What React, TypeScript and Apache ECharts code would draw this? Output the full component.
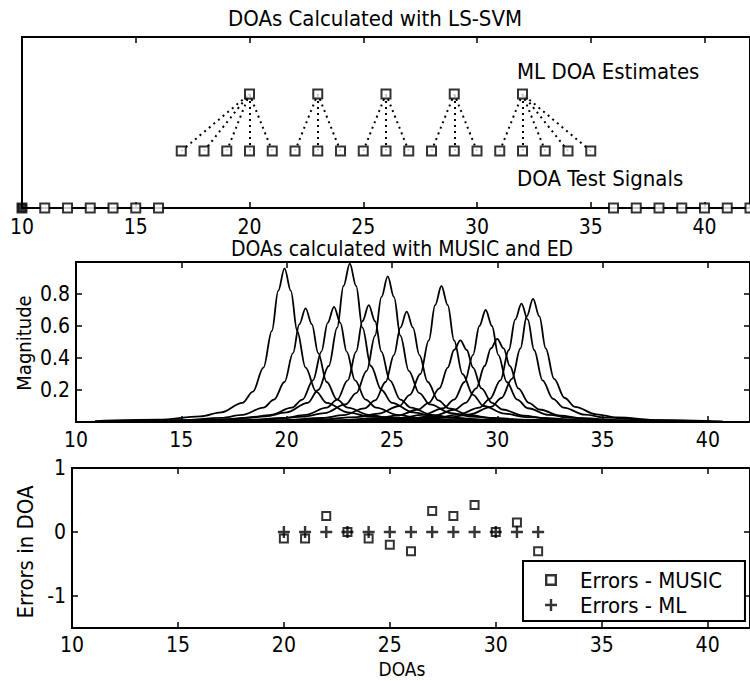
import React, { useEffect, useRef } from "react";
import * as echarts from "echarts";

const FONT =
  "'Liberation Sans Narrow', 'DejaVu Sans Condensed', 'Arial Narrow', 'Liberation Sans', sans-serif";

// ---------- shared axis ----------
const X_MIN = 10;
const X_MAX = 42;
const X_TICKS = [10, 15, 20, 25, 30, 35, 40];

// ---------- top panel: LS-SVM ----------
const TEST_DOAS = [17, 18, 19, 20, 21, 22, 23, 24, 25, 26, 27, 28, 29, 30, 31, 32, 33, 34, 35];
const TEST_TO_ML = [20, 20, 20, 20, 20, 23, 23, 23, 26, 26, 26, 29, 29, 29, 32, 32, 32, 32, 32];
const ML_ESTIMATES = [20, 23, 26, 29, 32];
const OUT_OF_RANGE_DOAS = [10, 11, 12, 13, 14, 15, 16, 36, 37, 38, 39, 40, 41, 42];
const AXIS_LEVEL = 0;
const TEST_LEVEL = 1;
const ML_LEVEL = 2;
const TOP_Y_MAX = 3;

// ---------- middle panel: MUSIC spectra ----------
const MUSIC_PEAKS = [19.9, 20.9, 22.25, 23.0, 23.9, 24.8, 25.7, 27.35, 28.25, 29.45, 30.0, 31.15, 31.7];
const SPECTRUM_OFFSETS = [-9, -6, -4, -3, -2, -1.5, -1, -0.6, -0.3, 0, 0.3, 0.6, 1, 1.5, 2, 3, 4, 6, 9];
const SPECTRA = [
  [0.005, 0.014, 0.035, 0.06, 0.12, 0.19, 0.34, 0.57, 0.82, 0.96, 0.82, 0.57, 0.34, 0.19, 0.12, 0.06, 0.035, 0.014, 0.005],
  [0.004, 0.011, 0.026, 0.045, 0.09, 0.14, 0.25, 0.43, 0.61, 0.71, 0.61, 0.43, 0.25, 0.14, 0.09, 0.045, 0.026, 0.011, 0.004],
  [0.004, 0.011, 0.026, 0.045, 0.09, 0.14, 0.26, 0.44, 0.62, 0.72, 0.62, 0.44, 0.26, 0.14, 0.09, 0.045, 0.026, 0.011, 0.004],
  [0.005, 0.015, 0.036, 0.06, 0.12, 0.2, 0.35, 0.59, 0.85, 0.99, 0.85, 0.59, 0.35, 0.2, 0.12, 0.06, 0.036, 0.015, 0.005],
  [0.004, 0.011, 0.026, 0.045, 0.09, 0.14, 0.26, 0.44, 0.63, 0.73, 0.63, 0.44, 0.26, 0.14, 0.09, 0.045, 0.026, 0.011, 0.004],
  [0.005, 0.014, 0.034, 0.056, 0.11, 0.18, 0.32, 0.54, 0.78, 0.91, 0.78, 0.54, 0.32, 0.18, 0.11, 0.056, 0.034, 0.014, 0.005],
  [0.004, 0.011, 0.025, 0.043, 0.085, 0.135, 0.25, 0.42, 0.59, 0.69, 0.59, 0.42, 0.25, 0.135, 0.085, 0.043, 0.025, 0.011, 0.004],
  [0.005, 0.013, 0.031, 0.052, 0.1, 0.17, 0.3, 0.51, 0.73, 0.85, 0.73, 0.51, 0.3, 0.17, 0.1, 0.052, 0.031, 0.013, 0.005],
  [0.004, 0.01, 0.024, 0.04, 0.078, 0.12, 0.21, 0.34, 0.45, 0.51, 0.45, 0.34, 0.21, 0.12, 0.078, 0.04, 0.024, 0.01, 0.004],
  [0.004, 0.011, 0.026, 0.044, 0.086, 0.14, 0.25, 0.42, 0.6, 0.7, 0.6, 0.42, 0.25, 0.14, 0.086, 0.044, 0.026, 0.011, 0.004],
  [0.004, 0.01, 0.024, 0.04, 0.078, 0.12, 0.21, 0.35, 0.46, 0.52, 0.46, 0.35, 0.21, 0.12, 0.078, 0.04, 0.024, 0.01, 0.004],
  [0.004, 0.012, 0.027, 0.046, 0.09, 0.145, 0.26, 0.45, 0.64, 0.74, 0.64, 0.45, 0.26, 0.145, 0.09, 0.046, 0.027, 0.012, 0.004],
  [0.004, 0.012, 0.028, 0.048, 0.094, 0.15, 0.27, 0.46, 0.66, 0.77, 0.66, 0.46, 0.27, 0.15, 0.094, 0.048, 0.028, 0.012, 0.004],
];
const MAG_TICKS = [0.2, 0.4, 0.6, 0.8];

// ---------- bottom panel: errors ----------
const ERROR_DOAS = [20, 21, 22, 23, 24, 25, 26, 27, 28, 29, 30, 31, 32];
const MUSIC_ERRORS = [-0.1, -0.1, 0.25, 0.0, -0.1, -0.2, -0.3, 0.33, 0.25, 0.42, 0.0, 0.15, -0.3];
const ML_ERRORS = [0, 0, 0, 0, 0, 0, 0, 0, 0, 0, 0, 0, 0];
const ERR_TICKS = [-1, 0, 1];

const BLACK = "#000";
const PLUS = "path://M4,0H6V10H4Z M0,4H10V6H0Z";
const HOLLOW_SQUARE = "path://M0,0H10V10H0Z M2,2V8H8V2Z";

function textStyle(size = 22) {
  return { fontFamily: FONT, fontSize: size, fill: BLACK };
}

function xAxis(gridIndex: number, position: "top" | "bottom", labels: boolean, margin = 8) {
  return {
    type: "value",
    gridIndex,
    position,
    min: X_MIN,
    max: X_MAX,
    axisLine: { show: false, onZero: false },
    splitLine: { show: false },
    axisTick: {
      show: true,
      inside: true,
      length: 6,
      customValues: X_TICKS,
      lineStyle: { color: BLACK, width: 1.5 },
    },
    axisLabel: {
      show: labels,
      customValues: X_TICKS,
      margin,
      color: BLACK,
      fontFamily: FONT,
      fontSize: 21,
    },
  };
}

function yAxis(
  gridIndex: number,
  position: "left" | "right",
  min: number,
  max: number,
  ticks: number[],
  labels: boolean
) {
  return {
    type: "value",
    gridIndex,
    position,
    min,
    max,
    axisLine: { show: false, onZero: false },
    splitLine: { show: false },
    axisTick: {
      show: true,
      inside: true,
      length: 6,
      customValues: ticks,
      lineStyle: { color: BLACK, width: 1.5 },
    },
    axisLabel: {
      show: labels,
      customValues: ticks,
      margin: 6,
      color: BLACK,
      fontFamily: FONT,
      fontSize: 21,
    },
  };
}

export default function App() {
  const ref = useRef<HTMLDivElement>(null);

  useEffect(() => {
    if (!ref.current) return;
    const chart = echarts.init(ref.current, undefined, { renderer: "svg" });

    const gridBase = { show: true, borderColor: BLACK, borderWidth: 2, backgroundColor: "#fff" };

    const connections = TEST_DOAS.map((d, i) => ({
      coords: [
        [d, TEST_LEVEL],
        [TEST_TO_ML[i], ML_LEVEL],
      ],
    }));

    const squareStyle = { color: "#fff", borderColor: BLACK, borderWidth: 2 };

    const spectraSeries = SPECTRA.map((vals, k) => ({
      type: "line",
      name: "spectrum" + k,
      xAxisIndex: 2,
      yAxisIndex: 1,
      data: vals.map((v, j) => [MUSIC_PEAKS[k] + SPECTRUM_OFFSETS[j], v]),
      symbol: "none",
      smooth: 0.35,
      smoothMonotone: "x",
      lineStyle: { color: BLACK, width: 1.8 },
      clip: true,
      z: 2,
    }));

    const option: any = {
      animation: false,
      backgroundColor: "#fff",
      grid: [
        { ...gridBase, left: 22, top: 37, width: 730, height: 171 },
        { ...gridBase, left: 76, top: 262, width: 676, height: 160 },
        { ...gridBase, left: 72, top: 468, width: 680, height: 160 },
      ],
      xAxis: [
        xAxis(0, "bottom", true, 8),
        xAxis(0, "top", false),
        xAxis(1, "bottom", true, 7),
        xAxis(1, "top", false),
        xAxis(2, "bottom", true, 6),
        xAxis(2, "top", false),
      ],
      yAxis: [
        { type: "value", gridIndex: 0, min: 0, max: TOP_Y_MAX, show: false },
        yAxis(1, "left", 0, 1, MAG_TICKS, true),
        yAxis(1, "right", 0, 1, MAG_TICKS, false),
        yAxis(2, "left", -1.5, 1, ERR_TICKS, true),
        yAxis(2, "right", -1.5, 1, ERR_TICKS, false),
      ],
      legend: {
        data: ["Errors - MUSIC", "Errors - ML"],
        orient: "vertical",
        left: 523,
        top: 561,
        padding: [8, 23, 5, 22],
        itemGap: 3,
        itemWidth: 48,
        itemHeight: 12,
        symbolKeepAspect: true,
        borderColor: BLACK,
        borderWidth: 2,
        backgroundColor: "#fff",
        textStyle: { fontFamily: FONT, fontSize: 22, color: BLACK },
      },
      series: [
        {
          type: "lines",
          coordinateSystem: "cartesian2d",
          xAxisIndex: 0,
          yAxisIndex: 0,
          data: connections,
          lineStyle: { color: BLACK, width: 2, type: [2, 4], opacity: 1 },
          z: 1,
        },
        {
          type: "scatter",
          name: "DOA Test Signals",
          xAxisIndex: 0,
          yAxisIndex: 0,
          data: TEST_DOAS.map((d) => [d, TEST_LEVEL]),
          symbol: "rect",
          symbolSize: 9,
          itemStyle: squareStyle,
          z: 3,
        },
        {
          type: "scatter",
          name: "ML DOA Estimates",
          xAxisIndex: 0,
          yAxisIndex: 0,
          data: ML_ESTIMATES.map((d) => [d, ML_LEVEL]),
          symbol: "rect",
          symbolSize: 9,
          itemStyle: squareStyle,
          z: 3,
        },
        {
          type: "scatter",
          name: "Out of range",
          xAxisIndex: 0,
          yAxisIndex: 0,
          clip: false,
          data: OUT_OF_RANGE_DOAS.map((d, i) =>
            i === 0 ? { value: [d, AXIS_LEVEL], itemStyle: { color: BLACK } } : [d, AXIS_LEVEL]
          ),
          symbol: "rect",
          symbolSize: 9,
          itemStyle: squareStyle,
          z: 5,
        },
        ...spectraSeries,
        {
          type: "scatter",
          name: "Errors - MUSIC",
          xAxisIndex: 4,
          yAxisIndex: 3,
          data: ERROR_DOAS.map((d, i) => [d, MUSIC_ERRORS[i]]),
          symbol: HOLLOW_SQUARE,
          symbolSize: 10,
          itemStyle: { color: BLACK },
          z: 3,
        },
        {
          type: "scatter",
          name: "Errors - ML",
          xAxisIndex: 4,
          yAxisIndex: 3,
          data: ERROR_DOAS.map((d, i) => [d, ML_ERRORS[i]]),
          symbol: PLUS,
          symbolSize: 12,
          itemStyle: { color: BLACK },
          z: 4,
        },
      ],
      graphic: [
        {
          type: "text",
          x: 375,
          y: 18,
          style: { ...textStyle(22), text: "DOAs Calculated with LS-SVM", align: "center", verticalAlign: "middle" },
        },
        {
          type: "text",
          x: 517,
          y: 71,
          style: { ...textStyle(22), text: "ML DOA Estimates", align: "left", verticalAlign: "middle" },
        },
        {
          type: "text",
          x: 517,
          y: 178,
          style: { ...textStyle(22), text: "DOA Test Signals", align: "left", verticalAlign: "middle" },
        },
        {
          type: "text",
          x: 402,
          y: 249,
          style: { ...textStyle(21), text: "DOAs calculated with MUSIC and ED", align: "center", verticalAlign: "middle" },
        },
        {
          type: "text",
          x: 24,
          y: 343,
          rotation: Math.PI / 2,
          style: { ...textStyle(20), text: "Magnitude", align: "center", verticalAlign: "middle" },
        },
        {
          type: "text",
          x: 25,
          y: 552,
          rotation: Math.PI / 2,
          style: { ...textStyle(22), text: "Errors in DOA", align: "center", verticalAlign: "middle" },
        },
        {
          type: "text",
          x: 402,
          y: 669,
          style: { ...textStyle(19), text: "DOAs", align: "center", verticalAlign: "middle" },
        },
      ],
    };

    chart.setOption(option);
    return () => chart.dispose();
  }, []);

  return (
    <div
      ref={ref}
      style={{ position: "fixed", left: 0, top: 0, width: 750, height: 681, background: "#fff" }}
    />
  );
}
